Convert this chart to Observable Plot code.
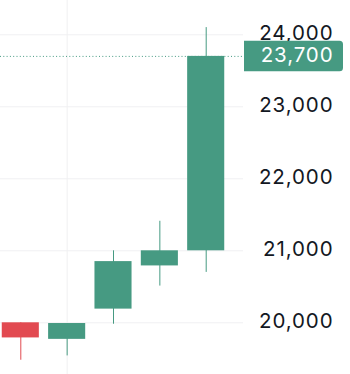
<!DOCTYPE html>
<html>
<head>
<meta charset="utf-8">
<script src="https://cdn.jsdelivr.net/npm/d3@7"></script>
<script src="https://cdn.jsdelivr.net/npm/@observablehq/plot@0.6"></script>
<style>
  html, body { margin: 0; padding: 0; background: #ffffff; }
  #chart { width: 350px; height: 374px; }
  #chart text { letter-spacing: 0.9px; }
</style>
</head>
<body>
<div id="chart"></div>
<script>
const candleIndex = [0, 1, 2, 3, 4];
const openValues  = [20000, 19770, 20190, 20790, 21000];
const closeValues = [19790, 19990, 20850, 21000, 23700];
const highValues  = [20000, 19990, 21000, 21410, 24100];
const lowValues   = [19480, 19540, 19980, 20510, 20700];
const yTicks = [20000, 21000, 22000, 23000, 24000];
const xGrid = [1];
const lastPrice = 23700;

const UP = "#469a82";
const DOWN = "#e24a51";
const GRID = "#f0f0f2";
const TEXT = "#131722";
const FONT = "Inter, 'Noto Sans', sans-serif";

const candles = candleIndex.map((i, k) => ({
  i, open: openValues[k], close: closeValues[k], high: highValues[k], low: lowValues[k]
}));
const color = d => d.close >= d.open ? UP : DOWN;
const fmt = d3.format(",");

// last-price label box (drawn from the y scale)
function priceBox(index, scales, values, dim) {
  const y = scales.y(lastPrice);
  const x0 = dim.width - dim.marginRight + 1;
  const x1 = dim.width - 7;
  const h = 30.5, r = 3.5;
  const t = y - h / 2, b = y + h / 2;
  const g = d3.create("svg:g");
  g.append("path")
    .attr("fill", UP)
    .attr("d", `M${x0},${t}H${x1 - r}A${r},${r} 0 0 1 ${x1},${t + r}V${b - r}A${r},${r} 0 0 1 ${x1 - r},${b}H${x0}Z`);
  return g.node();
}

const chart = Plot.plot({
  width: 350,
  height: 374,
  marginLeft: 0,
  marginRight: 107,
  marginTop: 0,
  marginBottom: 0,
  style: { background: "#ffffff", fontFamily: FONT },
  x: { domain: [0, 4], range: [20.3, 205.7], axis: null },
  y: { domain: [20000, 24000], range: [322.3, 34.3], axis: null },
  marks: [
    Plot.ruleY(yTicks, { stroke: GRID, strokeWidth: 1 }),
    Plot.ruleX(xGrid, { stroke: GRID, strokeWidth: 1 }),
    Plot.ruleY([lastPrice], { stroke: UP, strokeWidth: 1, strokeDasharray: "1,2.3" }),
    Plot.ruleX(candles, { x: "i", y1: "low", y2: "high", stroke: color, strokeWidth: 1 }),
    Plot.rect(candles, {
      x1: d => d.i - 0.4, x2: d => d.i + 0.4,
      y1: "open", y2: "close", fill: color
    }),
    Plot.text(yTicks, {
      y: d => d, text: d => fmt(d), frameAnchor: "right", textAnchor: "end",
      dx: 90, dy: -1.5, fill: TEXT, fontSize: 20.5, fontFamily: FONT
    }),
    priceBox,
    Plot.text([lastPrice], {
      y: d => d, text: d => fmt(d), frameAnchor: "right", textAnchor: "end",
      dx: 90, dy: -0.5, fill: "#ffffff", fontSize: 20.5, fontFamily: FONT
    })
  ]
});
document.getElementById("chart").appendChild(chart);
</script>
</body>
</html>
